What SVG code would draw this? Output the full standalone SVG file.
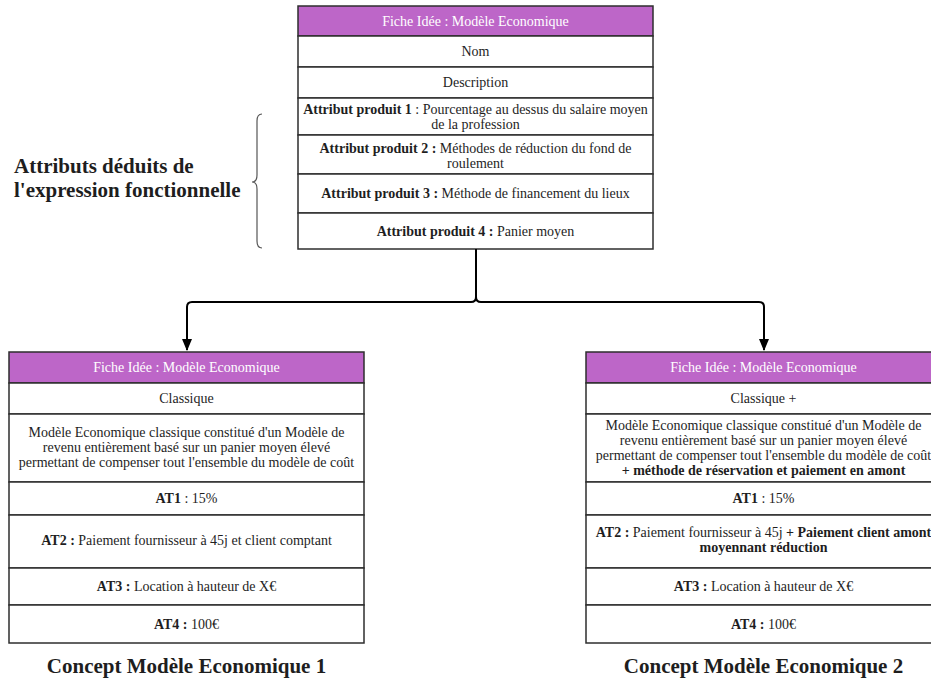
<svg xmlns="http://www.w3.org/2000/svg" width="931" height="678" viewBox="0 0 931 678">
<style>
.t{font-family:"Liberation Serif","Times New Roman",serif;font-size:14px;fill:#1e1e1e;text-anchor:middle}
.h{fill:#ffffff}
.b{font-weight:bold}
.cell{fill:#ffffff;stroke:#2e2e2e;stroke-width:1.5}
.head{fill:#bd66c8;stroke:#2e2e2e;stroke-width:1.5}
.big{font-family:"Liberation Serif","Times New Roman",serif;font-size:21px;font-weight:bold;fill:#1e1e1e}
.conn{fill:none;stroke:#000;stroke-width:2}
</style>
<defs>
<marker id="arr" viewBox="0 0 12 10" refX="11" refY="5" markerWidth="12" markerHeight="10" markerUnits="userSpaceOnUse" orient="auto">
<path d="M0,0 L12,5 L0,10 Z" fill="#000"/>
</marker>
</defs>
<rect width="931" height="678" fill="#ffffff"/>

<g id="top-table">
<rect class="head" x="298" y="6" width="355" height="30"/>
<rect class="cell" x="298" y="36" width="355" height="31"/>
<rect class="cell" x="298" y="67" width="355" height="31"/>
<rect class="cell" x="298" y="98" width="355" height="37"/>
<rect class="cell" x="298" y="135" width="355" height="39"/>
<rect class="cell" x="298" y="174" width="355" height="39"/>
<rect class="cell" x="298" y="213" width="355" height="36"/>
<text class="t h" x="475.5" y="26">Fiche Idée : Modèle Economique</text>
<text class="t" x="475.5" y="56">Nom</text>
<text class="t" x="475.5" y="87">Description</text>
<text class="t" x="475.5" y="114"><tspan class="b">Attribut produit 1</tspan> : Pourcentage au dessus du salaire moyen</text>
<text class="t" x="475.5" y="129">de la profession</text>
<text class="t" x="475.5" y="153"><tspan class="b">Attribut produit 2 :</tspan> Méthodes de réduction du fond de</text>
<text class="t" x="475.5" y="168">roulement</text>
<text class="t" x="475.5" y="198"><tspan class="b">Attribut produit 3 :</tspan> Méthode de financement du lieux</text>
<text class="t" x="475.5" y="236"><tspan class="b">Attribut produit 4 :</tspan> Panier moyen</text>
</g>

<g id="label-attributs">
<path d="M262,114 Q257,114 257,121 L257,175 Q257,182 252,182 Q257,182 257,189 L257,241 Q257,248 262,248" fill="none" stroke="#555" stroke-width="1.2"/>
<text class="big" x="14" y="173">Attributs déduits de</text>
<text class="big" x="14" y="197">l'expression fonctionnelle</text>
</g>

<g id="connectors">
<path class="conn" d="M476,249 L476,297 Q476,302 471,302 L192,302 Q187,302 187,307 L187,350" marker-end="url(#arr)"/>
<path class="conn" d="M476,249 L476,297 Q476,302 481,302 L759,302 Q764,302 764,307 L764,350" marker-end="url(#arr)"/>
</g>

<g id="left-table">
<rect class="head" x="9" y="352" width="355" height="31"/>
<rect class="cell" x="9" y="383" width="355" height="31"/>
<rect class="cell" x="9" y="414" width="355" height="68"/>
<rect class="cell" x="9" y="482" width="355" height="33"/>
<rect class="cell" x="9" y="515" width="355" height="53"/>
<rect class="cell" x="9" y="568" width="355" height="37"/>
<rect class="cell" x="9" y="605" width="355" height="38"/>
<text class="t h" x="186.5" y="372">Fiche Idée : Modèle Economique</text>
<text class="t" x="186.5" y="403">Classique</text>
<text class="t" x="186.5" y="437">Modèle Economique classique constitué d'un Modèle de</text>
<text class="t" x="186.5" y="452">revenu entièrement basé sur un panier moyen élevé</text>
<text class="t" x="186.5" y="467">permettant de compenser tout l'ensemble du modèle de coût</text>
<text class="t" x="186.5" y="503"><tspan class="b">AT1</tspan> : 15%</text>
<text class="t" x="186.5" y="545"><tspan class="b">AT2 :</tspan> Paiement fournisseur à 45j et client comptant</text>
<text class="t" x="186.5" y="591"><tspan class="b">AT3 :</tspan> Location à hauteur de X€</text>
<text class="t" x="186.5" y="629"><tspan class="b">AT4 :</tspan> 100€</text>
</g>

<g id="right-table">
<rect class="head" x="586" y="352" width="355" height="31"/>
<rect class="cell" x="586" y="383" width="355" height="31"/>
<rect class="cell" x="586" y="414" width="355" height="68"/>
<rect class="cell" x="586" y="482" width="355" height="33"/>
<rect class="cell" x="586" y="515" width="355" height="53"/>
<rect class="cell" x="586" y="568" width="355" height="37"/>
<rect class="cell" x="586" y="605" width="355" height="38"/>
<text class="t h" x="763.5" y="372">Fiche Idée : Modèle Economique</text>
<text class="t" x="763.5" y="403">Classique +</text>
<text class="t" x="763.5" y="430">Modèle Economique classique constitué d'un Modèle de</text>
<text class="t" x="763.5" y="445">revenu entièrement basé sur un panier moyen élevé</text>
<text class="t" x="763.5" y="460">permettant de compenser tout l'ensemble du modèle de coût</text>
<text class="t b" x="763.5" y="475">+ méthode de réservation et paiement en amont</text>
<text class="t" x="763.5" y="503"><tspan class="b">AT1</tspan> : 15%</text>
<text class="t" x="763.5" y="537"><tspan class="b">AT2 :</tspan> Paiement fournisseur à 45j  <tspan class="b">+ Paiement client amont</tspan></text>
<text class="t b" x="763.5" y="552">moyennant réduction</text>
<text class="t" x="763.5" y="591"><tspan class="b">AT3 :</tspan> Location à hauteur de X€</text>
<text class="t" x="763.5" y="629"><tspan class="b">AT4 :</tspan> 100€</text>
</g>

<g id="caption-1">
<text class="big" x="186.5" y="673" text-anchor="middle">Concept Modèle Economique 1</text>
</g>
<g id="caption-2">
<text class="big" x="763.5" y="673" text-anchor="middle">Concept Modèle Economique 2</text>
</g>
</svg>
